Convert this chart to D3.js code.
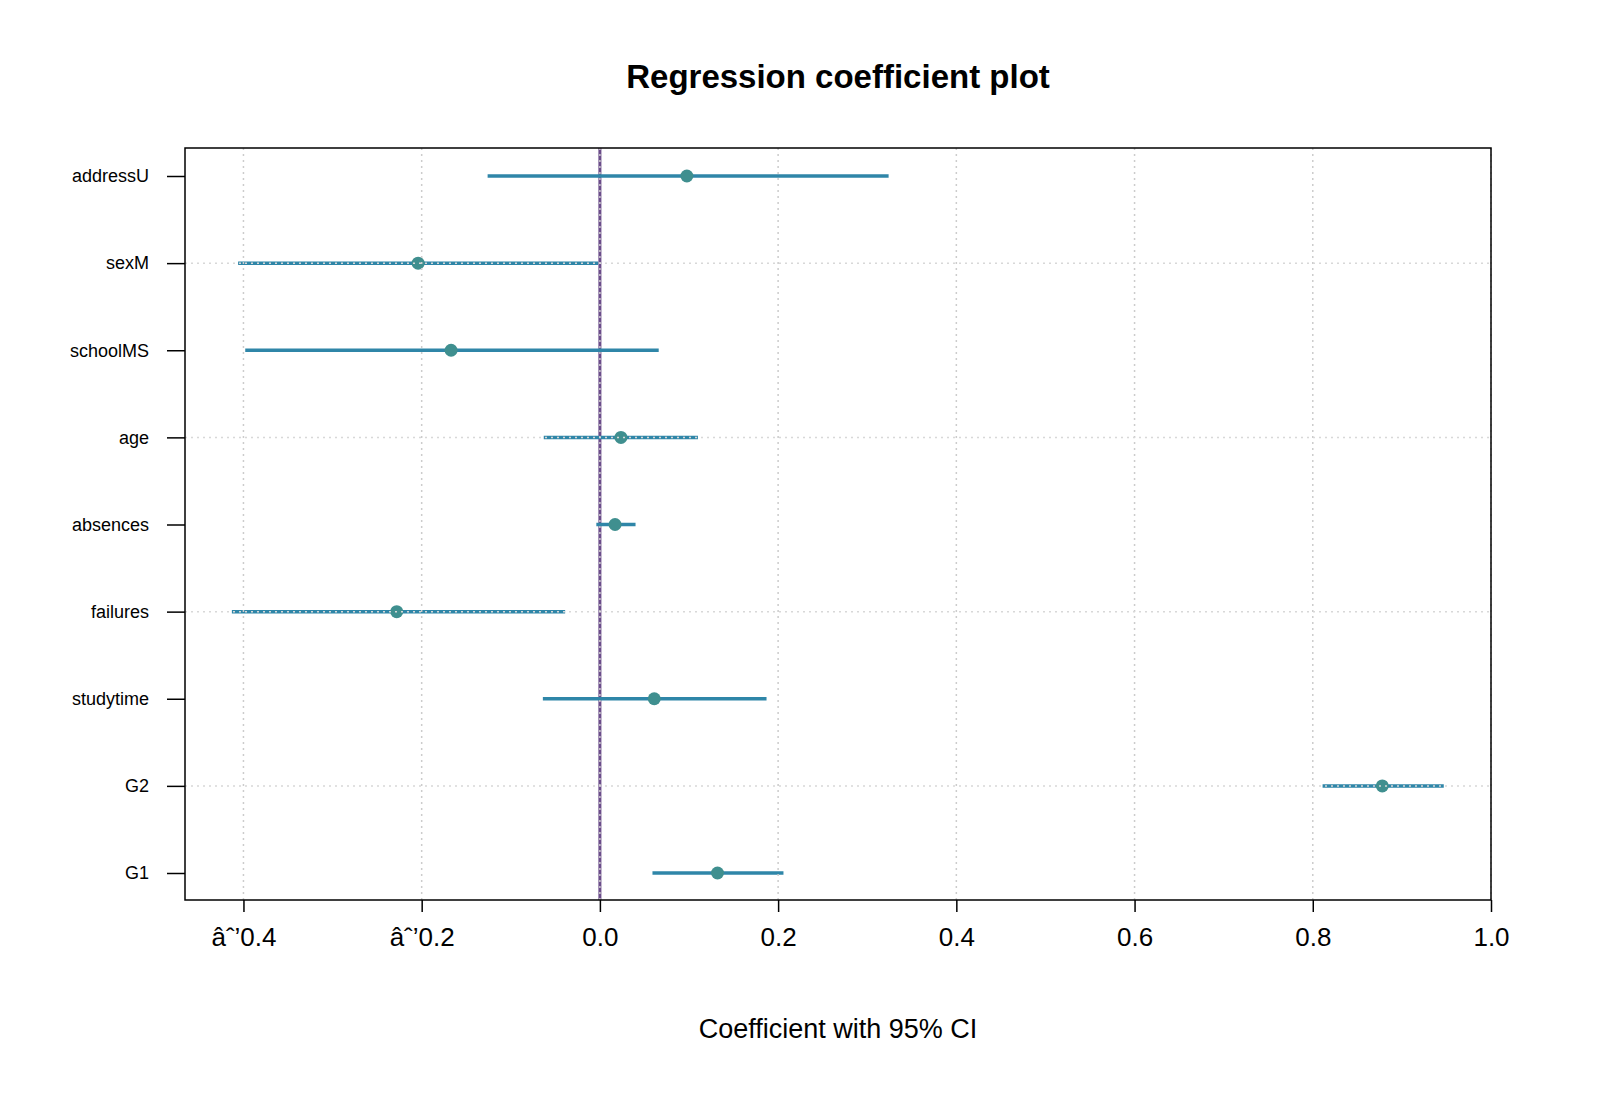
<!DOCTYPE html><html><head><script src="https://cdn.jsdelivr.net/npm/d3@7"></script>
<style>body{margin:0;background:#fff}</style></head><body><svg id="c" width="1600" height="1108"></svg><script>
const terms=["addressU","sexM","schoolMS","age","absences","failures","studytime","G2","G1"];
const estimate=[0.0976,-0.204,-0.167,0.0236,0.017,-0.228,0.061,0.878,0.132];
const lower=[-0.126,-0.406,-0.398,-0.063,-0.004,-0.413,-0.064,0.811,0.059];
const upper=[0.324,-0.002,0.066,0.110,0.040,-0.039,0.187,0.947,0.206];
const xTicks=[-0.4,-0.2,0,0.2,0.4,0.6,0.8,1.0];
const svg=d3.select("#c");
const L=185,R=1491,T=148,B=900;
const x=d3.scaleLinear().domain([-0.4656,1.0]).range([L,R]);
const y=d3.scalePoint().domain(terms).range([176,873]);
const grid="#cccccc";
// zero line
svg.append("line").attr("x1",x(0)).attr("x2",x(0)).attr("y1",T).attr("y2",B).attr("stroke","#6b4c8a").attr("stroke-width",3);
// CI lines & points
terms.forEach((t,i)=>{
 svg.append("line").attr("x1",x(lower[i])).attr("x2",x(upper[i])).attr("y1",y(t)).attr("y2",y(t)).attr("stroke","#2f86a8").attr("stroke-width",3.5);
 svg.append("circle").attr("cx",x(estimate[i])).attr("cy",y(t)).attr("r",6.5).attr("fill","#3f8f8f");
});
// grid on top
xTicks.forEach(v=>svg.append("line").attr("x1",x(v)).attr("x2",x(v)).attr("y1",T).attr("y2",B).attr("stroke",grid).attr("stroke-width",1.5).attr("stroke-dasharray","2,4"));
terms.forEach((t,i)=>{ if(i%2==1) svg.append("line").attr("x1",L).attr("x2",R).attr("y1",y(t)).attr("y2",y(t)).attr("stroke","#d8d8d8").attr("stroke-width",1.5).attr("stroke-dasharray","2,4");});
svg.append("rect").attr("x",L).attr("y",T).attr("width",R-L).attr("height",B-T).attr("fill","none").attr("stroke","#000").attr("stroke-width",1.5);
// x axis
const ax=svg.append("g").attr("transform",`translate(0,${B})`).call(d3.axisBottom(x).tickValues(xTicks).tickFormat(d3.format(".1f")).tickSize(12).tickPadding(16));
ax.select(".domain").remove();
ax.selectAll("line").attr("stroke-width",1.5);
ax.selectAll("text").attr("font-family","Liberation Sans, Arial").attr("font-size",26).attr("fill","#000");
// y axis
const ay=svg.append("g").attr("transform",`translate(${L},0)`).call(d3.axisLeft(y).tickSize(18).tickPadding(18));
ay.select(".domain").remove();
ay.selectAll("line").attr("stroke-width",1.5);
ay.selectAll("text").attr("font-family","Liberation Sans, Arial").attr("font-size",18).attr("fill","#000");
svg.append("text").attr("x",838).attr("y",88).attr("text-anchor","middle").attr("font-family","Liberation Sans, Arial").attr("font-weight","bold").attr("font-size",33).text("Regression coefficient plot");
svg.append("text").attr("x",838).attr("y",1038).attr("text-anchor","middle").attr("font-family","Liberation Sans, Arial").attr("font-size",27).text("Coefficient with 95% CI");
</script></body></html>
